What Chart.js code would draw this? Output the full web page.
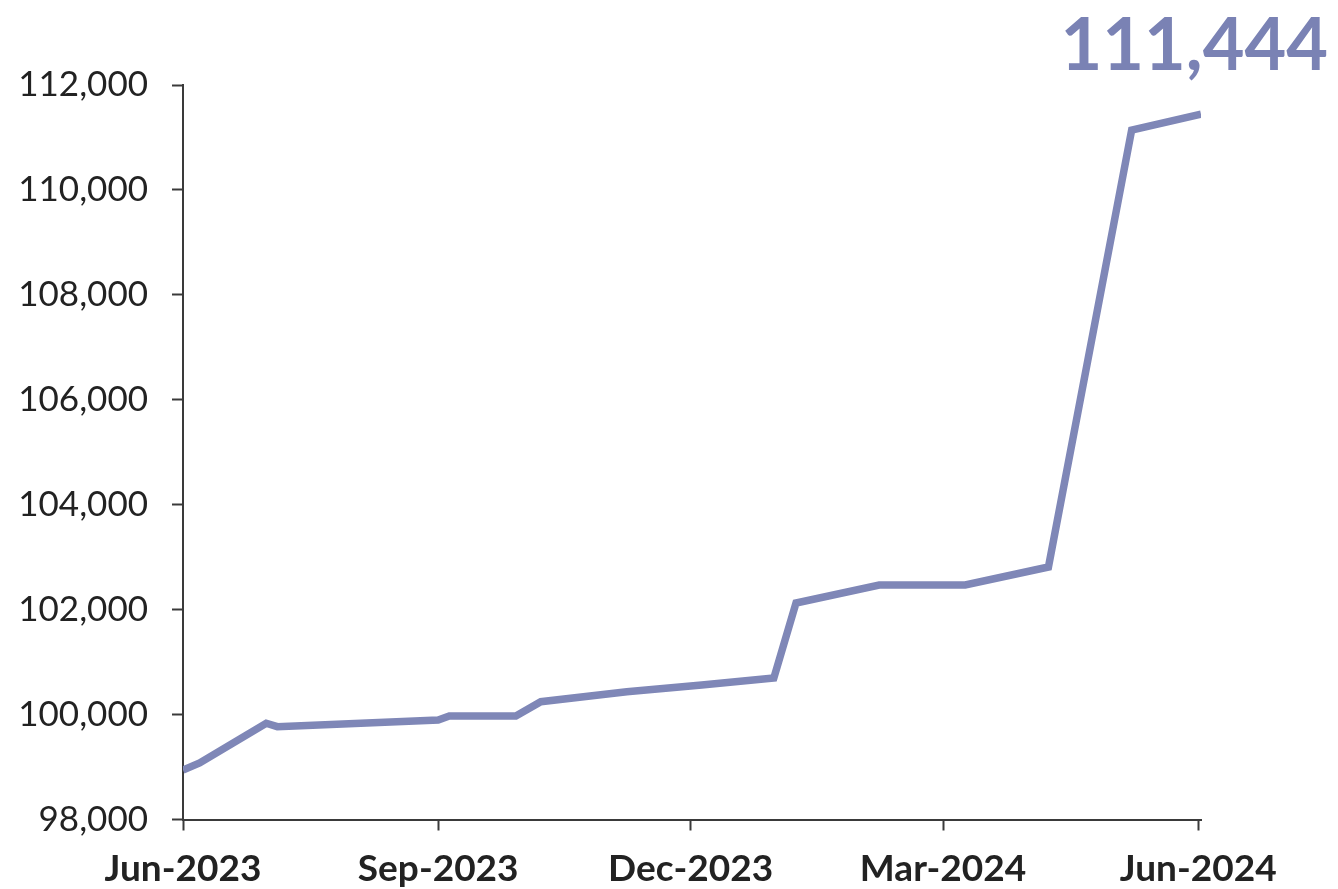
<!DOCTYPE html>
<html>
<head>
<meta charset="utf-8">
<script src="https://cdn.jsdelivr.net/npm/chart.js@4.4.1/dist/chart.umd.min.js"></script>
<style>
  body { margin: 0; background: #fff; }
  #wrap { width: 1338px; height: 889px; }
</style>
</head>
<body>
<div id="wrap"><canvas id="membersChart" width="1338" height="889"></canvas></div>
<script>
// membership count over the year
const dates = ['2023-06-01', '2023-06-07', '2023-07-01', '2023-07-05', '2023-09-01', '2023-09-05',
               '2023-09-29', '2023-10-08', '2023-11-08', '2023-12-05', '2023-12-31', '2024-01-08',
               '2024-02-07', '2024-03-09', '2024-04-08', '2024-05-08', '2024-06-02'];
const members = [98943, 99077, 99834, 99769, 99897, 99973,
                 99973, 100245, 100436, 100564, 100697, 102127,
                 102470, 102470, 102813, 111142, 111444];
const tickDates = ['2023-06-01', '2023-09-01', '2023-12-01', '2024-03-01', '2024-06-01'];
const tickLabels = ['Jun-2023', 'Sep-2023', 'Dec-2023', 'Mar-2024', 'Jun-2024'];
const yMin = 98000, yMax = 112000, yStep = 2000;

const lineColor = '#7f87b7';
const axisColor = '#3a3a3a';
const fontFamily = 'Lato, "Open Sans", sans-serif';

// days since the first date, so a linear axis works without a date adapter
const start = Date.parse(dates[0]);
const dayOf = s => (Date.parse(s) - start) / 86400000;

const points = dates.map((d, i) => ({ x: dayOf(d), y: members[i] }));

// big figure with the latest value, top right
const lastValueLabel = {
    id: 'lastValueLabel',
    afterDraw(chart) {
        const ctx = chart.ctx;
        const last = members[members.length - 1];
        ctx.save();
        ctx.font = 'bold 72px ' + fontFamily;
        ctx.fillStyle = '#7a82b4';
        ctx.textAlign = 'right';
        ctx.textBaseline = 'alphabetic';
        ctx.fillText(last.toLocaleString('en-US'), 1328, 70);
        ctx.restore();
    }
};

const ctx = document.getElementById('membersChart').getContext('2d');
new Chart(ctx, {
    type: 'line',
    data: {
        datasets: [{
            data: points,
            borderColor: lineColor,
            borderWidth: 7.5,
            borderJoinStyle: 'miter',
            pointRadius: 0,
            tension: 0,
            fill: false
        }]
    },
    options: {
        responsive: false,
        animation: false,
        layout: { padding: { top: 85, right: 137, bottom: 0, left: 0 } },
        plugins: {
            legend: { display: false },
            tooltip: { enabled: false }
        },
        scales: {
            x: {
                type: 'linear',
                min: 0,
                max: dayOf('2024-06-02'),
                afterBuildTicks: scale => {
                    scale.ticks = tickDates.map(d => ({ value: dayOf(d) }));
                },
                afterFit: scale => { scale.height = 69.5; },
                ticks: {
                    autoSkip: false,
                    maxRotation: 0,
                    padding: 16,
                    color: '#222',
                    font: { family: fontFamily, size: 37, weight: 'bold' },
                    callback: (v, i) => tickLabels[i]
                },
                grid: {
                    drawOnChartArea: false,
                    drawTicks: true,
                    tickLength: 11,
                    tickWidth: 2,
                    tickColor: axisColor
                },
                border: { display: true, color: axisColor, width: 2 }
            },
            y: {
                min: yMin,
                max: yMax,
                afterFit: scale => { scale.width = 183; },
                ticks: {
                    stepSize: yStep,
                    padding: 24,
                    color: '#222',
                    font: { family: fontFamily, size: 35 },
                    callback: v => v.toLocaleString('en-US')
                },
                grid: {
                    drawOnChartArea: false,
                    drawTicks: true,
                    tickLength: 11,
                    tickWidth: 2,
                    tickColor: axisColor
                },
                border: { display: true, color: axisColor, width: 2 }
            }
        }
    },
    plugins: [lastValueLabel]
});
</script>
</body>
</html>
